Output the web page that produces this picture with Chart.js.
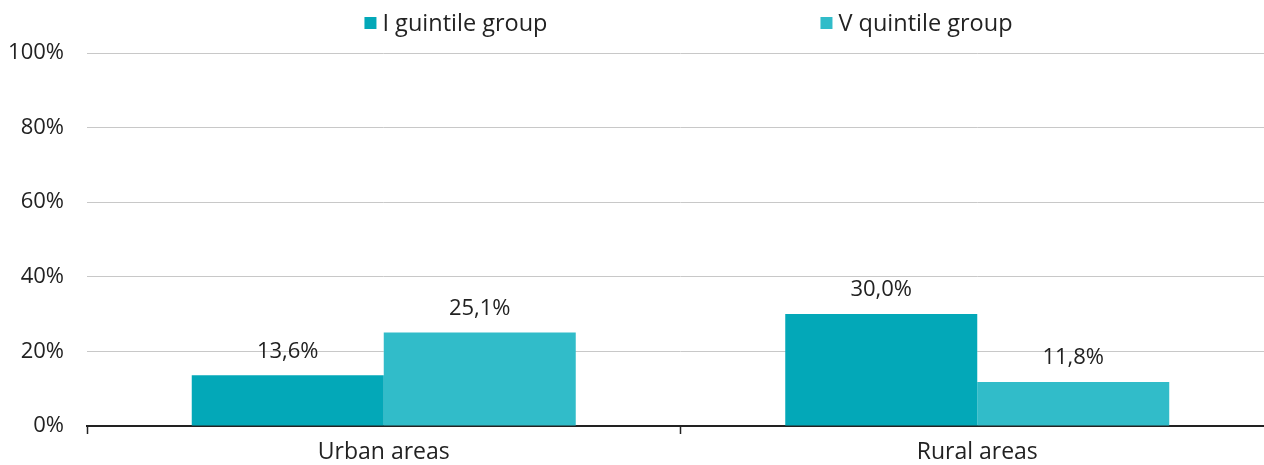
<!DOCTYPE html>
<html>
<head>
<meta charset="utf-8">
<script src="https://cdn.jsdelivr.net/npm/chart.js@4/dist/chart.umd.min.js"></script>
<style>
html,body{margin:0;padding:0;background:#fff;overflow:hidden;width:1264px;height:465px;}
#wrap{width:1274px;height:465px;}
</style>
</head>
<body>
<div id="wrap"><canvas id="c" width="1274" height="465"></canvas></div>
<script>
const categories = ["Urban areas", "Rural areas"];
const seriesNames = ["I guintile group", "V quintile group"];
const quintileI = [13.6, 30.0];
const quintileV = [25.1, 11.8];
const yTicks = [0, 20, 40, 60, 80, 100];
const colors = ["#03a8b8", "#31bcc9"];

const FONT = "'Open Sans', sans-serif";
const TXT = "#222222";

const valueLabels = {
  id: 'valueLabels',
  afterDatasetsDraw(chart) {
    const ctx = chart.ctx;
    ctx.save();
    ctx.font = "22px " + FONT;
    ctx.fillStyle = TXT;
    ctx.textAlign = 'center';
    ctx.textBaseline = 'middle';
    chart.data.datasets.forEach((ds, i) => {
      const meta = chart.getDatasetMeta(i);
      meta.data.forEach((bar, j) => {
        const v = ds.data[j];
        ctx.fillText(v.toFixed(1).replace('.', ',') + '%', bar.x, bar.y - 24);
      });
    });
    ctx.restore();
  }
};

// Legend drawn on the canvas from the datasets (wide spacing between items)
const wideLegend = {
  id: 'wideLegend',
  afterDraw(chart) {
    const ctx = chart.ctx;
    const box = 12, textGap = 6, itemGap = 273;
    ctx.save();
    ctx.font = "23.5px " + FONT;
    ctx.textBaseline = 'middle';
    const items = chart.data.datasets.map(ds => ({
      label: ds.label, color: ds.backgroundColor,
      w: box + textGap + ctx.measureText(ds.label).width
    }));
    const total = items.reduce((s, it) => s + it.w, 0) + itemGap * (items.length - 1);
    const cx = (chart.chartArea.left + chart.chartArea.right) / 2 + 8;
    let x = cx - total / 2;
    const y = 23;
    items.forEach(it => {
      ctx.fillStyle = it.color;
      ctx.fillRect(x, y - box / 2, box, box);
      ctx.fillStyle = TXT;
      ctx.textAlign = 'left';
      ctx.fillText(it.label, x + box + textGap, y + 1);
      x += it.w + itemGap;
    });
    ctx.restore();
  }
};

new Chart(document.getElementById('c'), {
  type: 'bar',
  data: {
    labels: categories,
    datasets: [
      { label: seriesNames[0], data: quintileI, backgroundColor: colors[0], borderWidth: 0 },
      { label: seriesNames[1], data: quintileV, backgroundColor: colors[1], borderWidth: 0 }
    ]
  },
  options: {
    responsive: false,
    animation: false,
    layout: { padding: { top: 53, bottom: 0, left: 0, right: 0 } },
    datasets: { bar: { barPercentage: 1.0, categoryPercentage: 0.647 } },
    plugins: {
      tooltip: { enabled: false },
      legend: { display: false }
    },
    scales: {
      x: {
        afterFit(scale) { scale.height = 39; },
        grid: { drawOnChartArea: false, color: '#222', tickLength: 8, tickWidth: 1.5, offset: true },
        border: { color: '#222', width: 2 },
        ticks: { color: TXT, font: { family: FONT, size: 23, lineHeight: 1.0 }, padding: 7 }
      },
      y: {
        min: 0, max: 100,
        afterBuildTicks(scale) { scale.ticks = yTicks.map(v => ({ value: v })); },
        afterFit(scale) { scale.width = 87; },
        grid: { color: '#c8c8c8', lineWidth: 1, drawTicks: false },
        border: { display: false },
        ticks: { color: TXT, font: { family: FONT, size: 22 }, padding: 23, callback: v => v + '%' }
      }
    }
  },
  plugins: [valueLabels, wideLegend]
});
</script>
</body>
</html>
